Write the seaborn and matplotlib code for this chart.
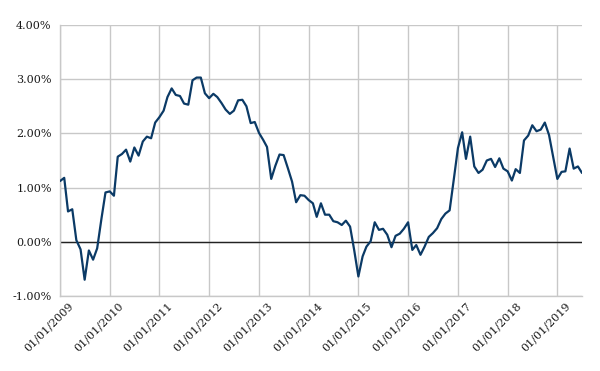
import numpy as np
import pandas as pd
import matplotlib
matplotlib.use("Agg")
import matplotlib.pyplot as plt
import matplotlib.dates as mdates
import matplotlib.transforms as mtransforms
import seaborn as sns

start_date = "2009-01-01"
values = [
    1.12, 1.18, 0.56, 0.60, 0.03, -0.14, -0.70, -0.16, -0.33, -0.12, 0.42, 0.91,
    0.93, 0.85, 1.57, 1.62, 1.70, 1.48, 1.74, 1.59, 1.85, 1.94, 1.91, 2.20,
    2.30, 2.42, 2.67, 2.83, 2.71, 2.69, 2.55, 2.53, 2.98, 3.03, 3.03, 2.74,
    2.65, 2.73, 2.67, 2.56, 2.44, 2.36, 2.42, 2.61, 2.62, 2.50, 2.19, 2.21,
    2.01, 1.88, 1.75, 1.16, 1.40, 1.61, 1.60, 1.36, 1.11, 0.73, 0.86, 0.85,
    0.77, 0.71, 0.46, 0.71, 0.50, 0.50, 0.38, 0.36, 0.31, 0.39, 0.28, -0.15,
    -0.64, -0.27, -0.09, 0.01, 0.36, 0.22, 0.24, 0.13, -0.10, 0.11, 0.15, 0.24,
    0.36, -0.15, -0.06, -0.24, -0.09, 0.09, 0.16, 0.25, 0.42, 0.52, 0.58, 1.14,
    1.73, 2.02, 1.53, 1.94, 1.39, 1.27, 1.33, 1.50, 1.53, 1.38, 1.54, 1.35,
    1.30, 1.13, 1.34, 1.27, 1.87, 1.96, 2.15, 2.04, 2.07, 2.20, 1.97, 1.57,
    1.16, 1.29, 1.30, 1.72, 1.35, 1.39, 1.27,
]
dates = pd.date_range(start_date, periods=len(values), freq="MS")
tick_years = list(range(2009, 2020))
y_ticks = [-1, 0, 1, 2, 3, 4]

df = pd.DataFrame({"date": dates, "value": values})

sns.set_style("white")
plt.rcParams["font.family"] = ["DejaVu Serif"]

fig = plt.figure(figsize=(6, 3.71), dpi=100)
ax = fig.add_axes([0.1, 0.2022, 0.87, 0.7304])

grid_color = "#c8c8c8"
sns.lineplot(data=df, x="date", y="value", ax=ax, color="#0b3a66", linewidth=1.6, zorder=3)

ax.set_ylim(-1, 4)
ax.set_xlim(pd.Timestamp("2009-01-01"), dates[-1])
ax.set_yticks(y_ticks)
ax.set_yticklabels([f"{v:.2f}%" for v in y_ticks])
tick_dates = [pd.Timestamp(f"{y}-01-01") for y in tick_years]
ax.set_xticks(tick_dates)
ax.set_xticklabels([d.strftime("%d/%m/%Y") for d in tick_dates])

ax.grid(True, axis="both", color=grid_color, linewidth=1.0)
ax.axhline(0, color="#222222", linewidth=1.0, zorder=2)
for s in ["top", "right"]:
    ax.spines[s].set_visible(False)
for s in ["left", "bottom"]:
    ax.spines[s].set_color(grid_color)
    ax.spines[s].set_linewidth(1.0)

ax.set_xlabel("")
ax.set_ylabel("")
ax.tick_params(axis="both", length=0, labelsize=8, colors="#1a1a1a")
ax.tick_params(axis="y", pad=6)
offset = mtransforms.ScaledTranslation(8 / 100, 0, fig.dpi_scale_trans)
for lab in ax.get_xticklabels():
    lab.set_rotation(45)
    lab.set_ha("right")
    lab.set_rotation_mode("anchor")
    lab.set_transform(lab.get_transform() + offset)

fig.savefig("out.png", dpi=100)
